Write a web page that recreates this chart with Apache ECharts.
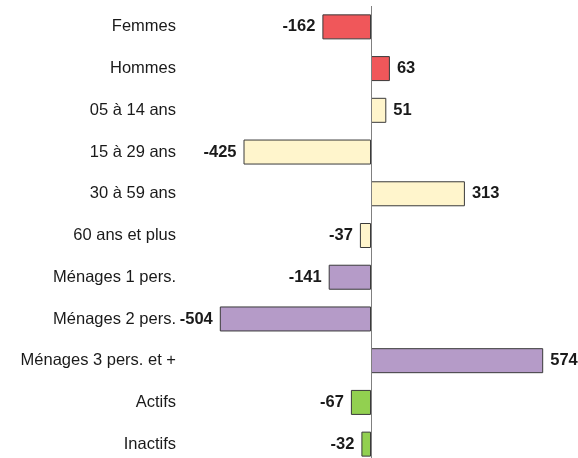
<!DOCTYPE html>
<html>
<head>
<meta charset="utf-8">
<script src="https://cdn.jsdelivr.net/npm/echarts@6/dist/echarts.min.js"></script>
<style>html,body{margin:0;padding:0;background:#fff;overflow:hidden}#c{width:578px;height:470px}</style>
</head>
<body>
<div id="c"></div>
<script>
var categories = ['Femmes','Hommes','05 à 14 ans','15 à 29 ans','30 à 59 ans','60 ans et plus','Ménages 1 pers.','Ménages 2 pers.','Ménages 3 pers. et +','Actifs','Inactifs'];
var values = [-162, 63, 51, -425, 313, -37, -141, -504, 574, -67, -32];
var groups = ['sexe','sexe','age','age','age','age','menage','menage','menage','activite','activite'];

var groupColors = {sexe:'#F0575A', age:'#FFF5CC', menage:'#B59BC8', activite:'#92D050'};

var chart = echarts.init(document.getElementById('c'), null, {renderer:'canvas'});
var data = values.map(function(v,i){
  return {
    value: v,
    itemStyle: {color: groupColors[groups[i]], borderColor:'#3a3a3a', borderWidth:1},
    label: {position: v >= 0 ? 'right' : 'left'}
  };
});
chart.setOption({
  animation:false,
  grid:{left:191, width:360, top:6, height:459},
  xAxis:{type:'value', min:-600, max:600, show:false},
  yAxis:{type:'category', data:categories, inverse:true,
    axisLine:{show:false, onZero:false}, axisTick:{show:false},
    axisLabel:{margin:15, fontSize:16.5, color:'#1a1a1a', fontFamily:'Liberation Sans, Arial, sans-serif'}},
  series:[{
    type:'bar', data:data, barWidth:25,
    label:{show:true, distance:7, fontSize:16.5, fontWeight:'bold', color:'#1a1a1a', fontFamily:'Liberation Sans, Arial, sans-serif'},
    markLine:{silent:true, symbol:'none', label:{show:false},
      lineStyle:{color:'#808080', width:1, type:'solid'},
      data:[{xAxis:0}]}
  }]
});
</script>
</body>
</html>
